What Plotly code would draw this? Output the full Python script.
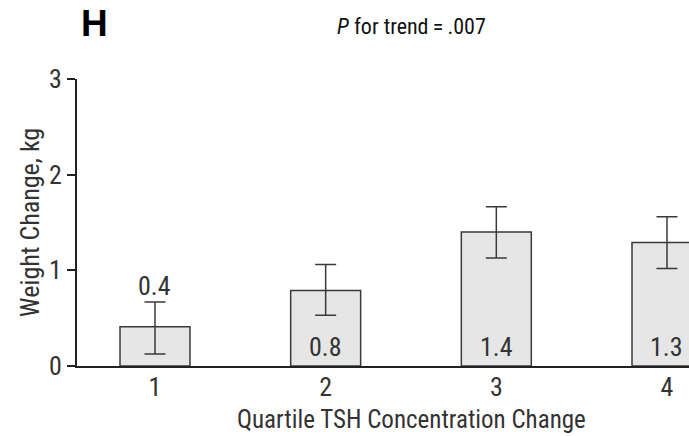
import plotly.graph_objects as go

categories = [1, 2, 3, 4]
weight_change = [0.41, 0.79, 1.40, 1.29]
ci_upper = [0.67, 1.06, 1.665, 1.56]
ci_lower = [0.125, 0.53, 1.13, 1.02]
bar_labels = ["0.4", "0.8", "1.4", "1.3"]
label_outside = [True, False, False, False]
y_ticks = [0, 1, 2, 3]

FONT = "Roboto Condensed, Liberation Sans, sans-serif"
TXT = "#333333"
FS = 26

err_plus = [u - v for u, v in zip(ci_upper, weight_change)]
err_minus = [v - l for v, l in zip(weight_change, ci_lower)]

fig = go.Figure()
fig.add_trace(go.Bar(
    x=categories, y=weight_change, width=0.41,
    marker=dict(color="#e6e6e6", line=dict(color="#3a3a3a", width=1.5)),
    error_y=dict(type="data", symmetric=False, array=err_plus, arrayminus=err_minus,
                 color="#3a3a3a", thickness=1.5, width=10.5),
    hoverinfo="skip",
))

for c, v, u, lab, out in zip(categories, weight_change, ci_upper, bar_labels, label_outside):
    if out:
        fig.add_annotation(x=c, y=u, text=lab, showarrow=False, yanchor="bottom", yshift=-1,
                           font=dict(family=FONT, size=FS, color=TXT))
    else:
        fig.add_annotation(x=c, y=0, text=lab, showarrow=False, yanchor="bottom", yshift=2,
                           font=dict(family=FONT, size=FS, color=TXT))

fig.add_annotation(xref="paper", yref="paper", x=0.003, y=1.0, yshift=78, text="<b>H</b>",
                   showarrow=False, xanchor="left", yanchor="top",
                   font=dict(family="Liberation Sans, Arial, sans-serif", size=37, color="#000000"))
fig.add_annotation(xref="paper", yref="paper", x=0.546, y=1.0, yshift=67,
                   text="<i>P</i> for trend\u2009=\u2009.007",
                   showarrow=False, xanchor="center", yanchor="top",
                   font=dict(family=FONT, size=22, color="#111111"))
fig.add_annotation(xref="paper", yref="paper", x=0.546, y=0.0, yshift=-37,
                   text="Quartile TSH Concentration Change",
                   showarrow=False, xanchor="center", yanchor="top",
                   font=dict(family=FONT, size=25, color=TXT))

fig.update_layout(
    width=689, height=436,
    margin=dict(l=77, r=0, t=79, b=70),
    plot_bgcolor="white", paper_bgcolor="white",
    showlegend=False,
    xaxis=dict(range=[0.543, 4.129], tickvals=categories, ticktext=[str(c) for c in categories],
               showline=True, linecolor="#222222", linewidth=2, ticks="", showgrid=False, zeroline=False,
               ticklabelstandoff=-3,
               tickfont=dict(family=FONT, size=FS, color=TXT)),
    yaxis=dict(range=[0, 3], tickvals=y_ticks, showline=True, linecolor="#222222", linewidth=2,
               ticks="outside", ticklen=8, tickwidth=2, tickcolor="#222222",
               showgrid=False, zeroline=False,
               tickfont=dict(family=FONT, size=FS, color=TXT),
               title=dict(text="Weight Change, kg", font=dict(family=FONT, size=FS, color=TXT), standoff=2)),
)

fig.write_html("out.html")
